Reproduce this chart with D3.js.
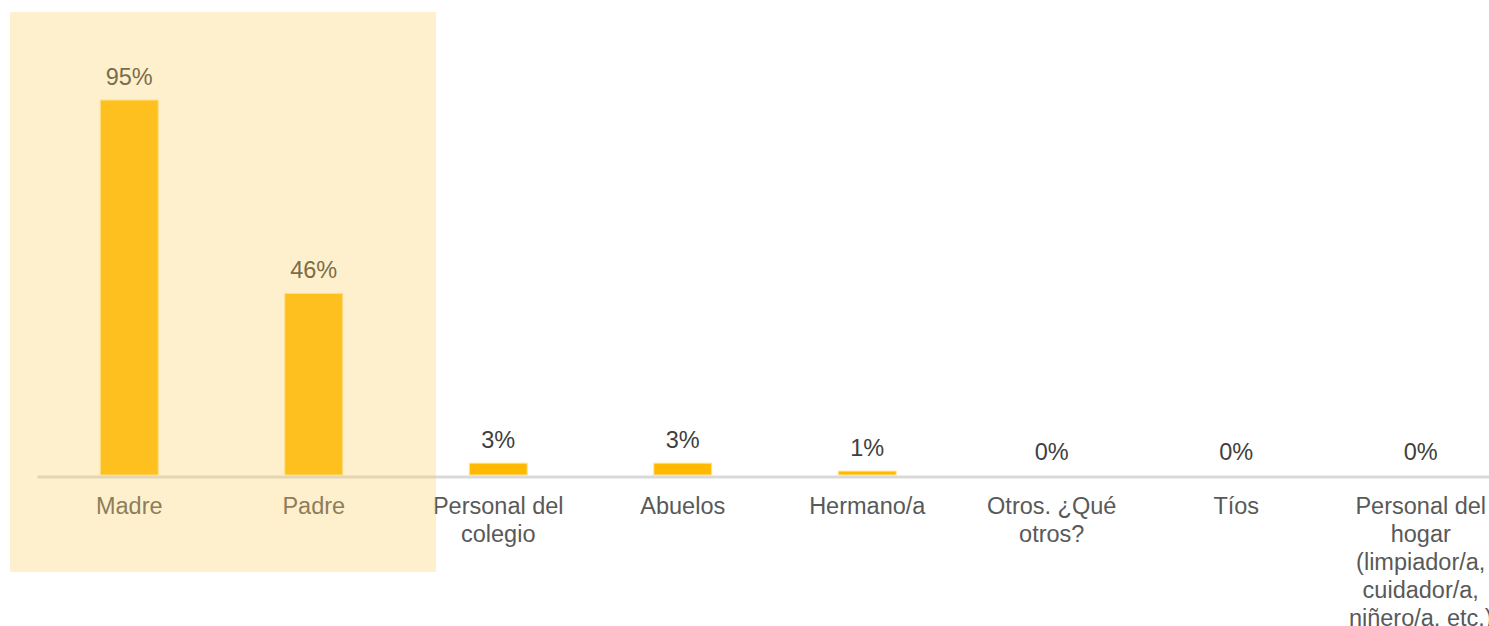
<!DOCTYPE html>
<html>
<head>
<meta charset="utf-8">
<script src="https://cdn.jsdelivr.net/npm/d3@7"></script>
<style>
  html, body { margin: 0; padding: 0; background: #ffffff; }
  svg { display: block; }
</style>
</head>
<body>
<svg id="chart" width="1489" height="626"></svg>
<script>
// Categories and percentages
const categories = [
  "Madre",
  "Padre",
  "Personal del colegio",
  "Abuelos",
  "Hermano/a",
  "Otros. ¿Qué otros?",
  "Tíos",
  "Personal del hogar (limpiador/a, cuidador/a, niñero/a, etc.)"
];
const values = [95, 46, 3, 3, 1, 0, 0, 0];
const valueLabels = ["95%", "46%", "3%", "3%", "1%", "0%", "0%", "0%"];

const W = 1489, H = 626;
const svg = d3.select("#chart");
const font = "'Liberation Sans', Arial, sans-serif";
const fontSize = 23.5;

const baseline = 475;
const x = d3.scaleBand()
  .domain(categories)
  .range([37, 1513])
  .paddingInner(0.686)
  .paddingOuter(0.343);

const y = d3.scaleLinear()
  .domain([0, 100])
  .range([baseline, baseline - 394.7]);

const data = categories.map((c, i) => ({ cat: c, v: values[i], label: valueLabels[i] }));

// Bars
svg.append("g")
  .selectAll("rect")
  .data(data)
  .join("rect")
  .attr("x", d => x(d.cat))
  .attr("y", d => y(d.v))
  .attr("width", x.bandwidth())
  .attr("height", d => baseline - y(d.v))
  .attr("fill", "#FFB900")
  .attr("stroke", "#FFE699")
  .attr("stroke-width", 1);

// Baseline axis
const axis = d3.axisBottom(x).tickSize(0).tickFormat("");
const axisG = svg.append("g")
  .attr("transform", `translate(0,${baseline + 1.5})`)
  .call(axis);
axisG.select(".domain")
  .attr("stroke", "#D9D9D9")
  .attr("stroke-width", 3);

// Value labels
svg.append("g")
  .selectAll("text")
  .data(data)
  .join("text")
  .attr("x", d => x(d.cat) + x.bandwidth() / 2)
  .attr("y", d => y(d.v) - 15)
  .attr("text-anchor", "middle")
  .attr("font-family", font)
  .attr("font-size", fontSize)
  .attr("fill", "#404040")
  .text(d => d.label);

// Category labels, wrapped to a fixed width
function wrap(text, maxW) {
  const measure = svg.append("text")
    .attr("font-family", font)
    .attr("font-size", fontSize)
    .attr("visibility", "hidden");
  const words = text.split(/\s+/);
  const lines = [];
  let cur = "";
  words.forEach(w => {
    const trial = cur ? cur + " " + w : w;
    measure.text(trial);
    if (cur && measure.node().getComputedTextLength() > maxW) {
      lines.push(cur);
      cur = w;
    } else {
      cur = trial;
    }
  });
  if (cur) lines.push(cur);
  measure.remove();
  return lines;
}

const catG = svg.append("g");
data.forEach(d => {
  const lines = wrap(d.cat, 150);
  const t = catG.append("text")
    .attr("x", x(d.cat) + x.bandwidth() / 2)
    .attr("y", 513.5)
    .attr("text-anchor", "middle")
    .attr("font-family", font)
    .attr("font-size", fontSize)
    .attr("fill", "#595959");
  lines.forEach((ln, i) => {
    t.append("tspan")
      .attr("x", x(d.cat) + x.bandwidth() / 2)
      .attr("dy", i === 0 ? 0 : 28)
      .text(ln);
  });
});

// Translucent highlight band over the two parent categories
svg.append("rect")
  .attr("x", 10)
  .attr("y", 12)
  .attr("width", 426)
  .attr("height", 560)
  .attr("fill", "#FBCF5F")
  .attr("fill-opacity", 0.314);
</script>
</body>
</html>
